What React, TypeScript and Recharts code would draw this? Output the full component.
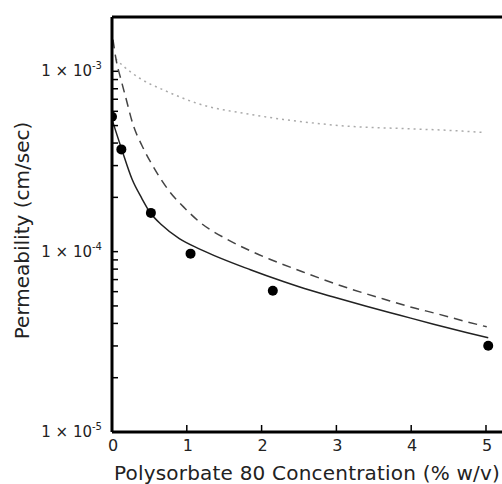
import React from 'react';
import { ComposedChart, Line, Scatter, XAxis, YAxis, ReferenceLine } from 'recharts';

// measured permeability vs polysorbate 80 concentration
const measuredConc = [0, 0.125, 0.52, 1.05, 2.15, 5.03];
const measuredPerm = [5.6e-4, 3.69e-4, 1.64e-4, 9.75e-5, 6.07e-5, 3.01e-5];

// fitted model (solid)
const fitConc = [0, 0.13, 0.27, 0.4, 0.5, 0.67, 0.9, 1.18, 1.85, 2.3, 2.5, 2.95, 3.4, 3.85, 4.3, 4.75, 5.03];
const fitPerm = [5.41e-4, 3.69e-4, 2.51e-4, 1.97e-4, 1.67e-4, 1.4e-4, 1.18e-4, 1.03e-4, 7.94e-5, 6.81e-5, 6.39e-5, 5.62e-5, 4.98e-5, 4.44e-5, 3.96e-5, 3.55e-5, 3.33e-5];

// dashed model
const dashConc = [0.013, 0.053, 0.12, 0.19, 0.28, 0.4, 0.535, 0.76, 0.98, 1.18, 1.54, 1.85, 2.11, 2.51, 2.87, 3.18, 3.62, 3.98, 4.35, 4.69, 5.01];
const dashPerm = [1.5e-3, 1.17e-3, 9.0e-4, 7.0e-4, 5.08e-4, 3.88e-4, 3.04e-4, 2.18e-4, 1.73e-4, 1.45e-4, 1.17e-4, 1.01e-4, 9.08e-5, 7.84e-5, 6.9e-5, 6.23e-5, 5.48e-5, 4.95e-5, 4.52e-5, 4.14e-5, 3.83e-5];

// dotted model
const dotConc = [0.05, 0.15, 0.37, 0.7, 1.18, 1.85, 2.29, 2.74, 3.18, 3.85, 4.52, 4.96];
const dotPerm = [1.17e-3, 1.07e-3, 9.15e-4, 7.84e-4, 6.56e-4, 5.77e-4, 5.41e-4, 5.14e-4, 4.95e-4, 4.82e-4, 4.7e-4, 4.58e-4];

const xTicks = [0, 1, 2, 3, 4, 5];
const yMajor = [1e-5, 1e-4, 1e-3];
const yMinorMantissa = [2, 3, 4, 5, 6, 7, 8, 9];

const toPoints = (xs: number[], ys: number[]) => xs.map((x, i) => ({ x, y: ys[i] }));

const measured = toPoints(measuredConc, measuredPerm);
const fit = toPoints(fitConc, fitPerm);
const dashed = toPoints(dashConc, dashPerm);
const dotted = toPoints(dotConc, dotPerm);

const yTicks: number[] = [];
yMajor.forEach((m) => {
  yTicks.push(m);
  yMinorMantissa.forEach((k) => {
    const v = k * m;
    if (v <= 2e-3) yTicks.push(v);
  });
});

const FONT = '"DejaVu Sans", Verdana, sans-serif';

const XTick = (props: any) => {
  const { x, y, payload } = props;
  return (
    <g>
      <line x1={x} x2={x} y1={y} y2={y - 7} stroke="#000" strokeWidth={1.5} />
      <text x={x + 1} y={y + 19} textAnchor="middle" fontSize={16} fontFamily={FONT} fill="#222">
        {payload.value}
      </text>
    </g>
  );
};

const YTick = (props: any) => {
  const { x, y, payload } = props;
  const v = payload.value as number;
  const exp = Math.round(Math.log10(v));
  const isMajor = Math.abs(v / Math.pow(10, exp) - 1) < 1e-6;
  return (
    <g>
      <line x1={x} x2={x + 6} y1={y} y2={y} stroke="#000" strokeWidth={1.5} />
      {isMajor && (
        <text x={x - 10} y={y + 5} textAnchor="end" fontSize={15} fontFamily={FONT} fill="#222">
          1 × 10
          <tspan dy={-7} fontSize={10}>{exp}</tspan>
        </text>
      )}
    </g>
  );
};

const YTitle = (props: any) => {
  const { viewBox } = props;
  const cx = 22;
  const cy = viewBox.y + viewBox.height / 2 + 6;
  return (
    <text
      x={cx}
      y={cy}
      transform={`rotate(-90, ${cx}, ${cy})`}
      textAnchor="middle"
      dominantBaseline="central"
      fontSize={20}
      fontFamily={FONT}
      fill="#222"
    >
      Permeability (cm/sec)
    </text>
  );
};

export default function App() {
  return (
    <div style={{ position: 'absolute', left: 0, top: 0, width: 502, height: 484, background: '#fff' }}>
      <ComposedChart width={502} height={484} margin={{ top: 17, right: 0, bottom: 0, left: 0 }}>
        <XAxis
          type="number"
          dataKey="x"
          domain={[0, 5.214]}
          ticks={xTicks}
          allowDataOverflow
          height={52}
          tickSize={0}
          tickMargin={0}
          tickLine={false}
          tick={<XTick />}
          axisLine={{ stroke: '#000', strokeWidth: 3 }}
          label={{
            value: 'Polysorbate 80 Concentration (% w/v)',
            position: 'insideBottom',
            offset: 4,
            fontSize: 20,
            letterSpacing: 0.2,
            fontFamily: FONT,
            fill: '#222',
          }}
        />
        <YAxis
          type="number"
          dataKey="y"
          scale="log"
          domain={[1e-5, 2e-3]}
          ticks={yTicks}
          allowDataOverflow
          interval={0}
          width={112}
          tickSize={0}
          tickMargin={0}
          tickLine={false}
          tick={<YTick />}
          axisLine={{ stroke: '#000', strokeWidth: 3 }}
          label={{ content: <YTitle /> }}
        />
        <ReferenceLine y={2e-3} stroke="#000" strokeWidth={3} />
        <Line
          data={dotted}
          dataKey="y"
          type="monotone"
          stroke="#aaa"
          strokeWidth={1.5}
          strokeDasharray="2 4"
          dot={false}
          isAnimationActive={false}
        />
        <Line
          data={dashed}
          dataKey="y"
          type="monotone"
          stroke="#444"
          strokeWidth={1.5}
          strokeDasharray="9 6"
          dot={false}
          isAnimationActive={false}
        />
        <Line
          data={fit}
          dataKey="y"
          type="monotone"
          stroke="#222"
          strokeWidth={1.5}
          dot={false}
          isAnimationActive={false}
        />
        <Scatter data={measured} dataKey="y" fill="#000" shape={(p: any) => <circle cx={p.cx} cy={p.cy} r={5} fill="#000" />} isAnimationActive={false} />
      </ComposedChart>
    </div>
  );
}
